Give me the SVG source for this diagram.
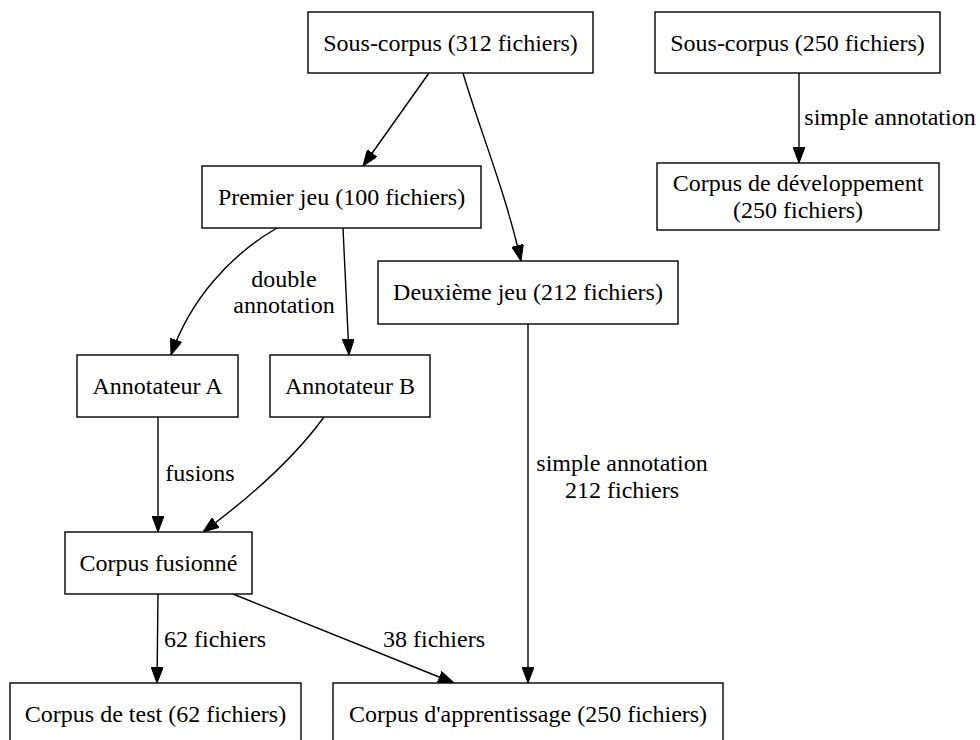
<svg xmlns="http://www.w3.org/2000/svg" width="980" height="740" viewBox="0 0 980 740">
<style>
.n rect{fill:#fff;stroke:#000;stroke-width:1.4}
text{font-family:"Liberation Serif","Times New Roman",serif;font-size:24px;fill:#000;text-anchor:middle}
.e path{fill:none;stroke:#000;stroke-width:1.4;marker-end:url(#ah)}
</style>
<defs>
<marker id="ah" viewBox="0 0 16 12" refX="16" refY="6" markerWidth="16" markerHeight="12" markerUnits="userSpaceOnUse" orient="auto">
<path d="M0,0 L16,6 L0,12 z" fill="#000" stroke="#000" stroke-width="1"/>
</marker>
</defs>
<rect width="980" height="740" fill="#fff"/>
<g id="edges" class="e">
<path d="M429,73 L363,166"/>
<path d="M463,73 C478,125 505,190 521,261"/>
<path d="M799,73 L799,163"/>
<path d="M277,228 C230,255 190,300 171,355"/>
<path d="M343,228 L349,355"/>
<path d="M528,324 L528,683"/>
<path d="M158,417 L158,532"/>
<path d="M324,417 C300,450 260,490 203,532"/>
<path d="M158,594 L157,683"/>
<path d="M233,594 L454,683"/>
</g>
<g id="edge-labels">
<text x="890" y="125">simple annotation</text>
<text x="284" y="287">double</text>
<text x="284" y="313">annotation</text>
<text x="200" y="481">fusions</text>
<text x="622" y="471">simple annotation</text>
<text x="622" y="498">212 fichiers</text>
<text x="215" y="647">62 fichiers</text>
<text x="434" y="647">38 fichiers</text>
</g>
<g id="sc312" class="n"><rect x="308" y="12" width="285" height="61"/><text x="450.5" y="51">Sous-corpus (312 fichiers)</text></g>
<g id="sc250" class="n"><rect x="655" y="12" width="285" height="61"/><text x="797.5" y="51">Sous-corpus (250 fichiers)</text></g>
<g id="dev" class="n"><rect x="657" y="163" width="282" height="67"/><text x="798" y="191">Corpus de développement</text><text x="798" y="218">(250 fichiers)</text></g>
<g id="premier" class="n"><rect x="202" y="166" width="279" height="62"/><text x="341.5" y="205">Premier jeu (100 fichiers)</text></g>
<g id="deuxieme" class="n"><rect x="378" y="261" width="300" height="63"/><text x="528" y="300">Deuxième jeu (212 fichiers)</text></g>
<g id="annA" class="n"><rect x="77" y="355" width="161" height="62"/><text x="157.5" y="394">Annotateur A</text></g>
<g id="annB" class="n"><rect x="270" y="355" width="160" height="62"/><text x="350" y="394">Annotateur B</text></g>
<g id="fusionne" class="n"><rect x="65" y="532" width="187" height="62"/><text x="158.5" y="571">Corpus fusionné</text></g>
<g id="test" class="n"><rect x="10" y="683" width="291" height="62"/><text x="155.5" y="722">Corpus de test (62 fichiers)</text></g>
<g id="apprent" class="n"><rect x="333" y="683" width="390" height="62"/><text x="528" y="722">Corpus d'apprentissage (250 fichiers)</text></g>
</svg>
